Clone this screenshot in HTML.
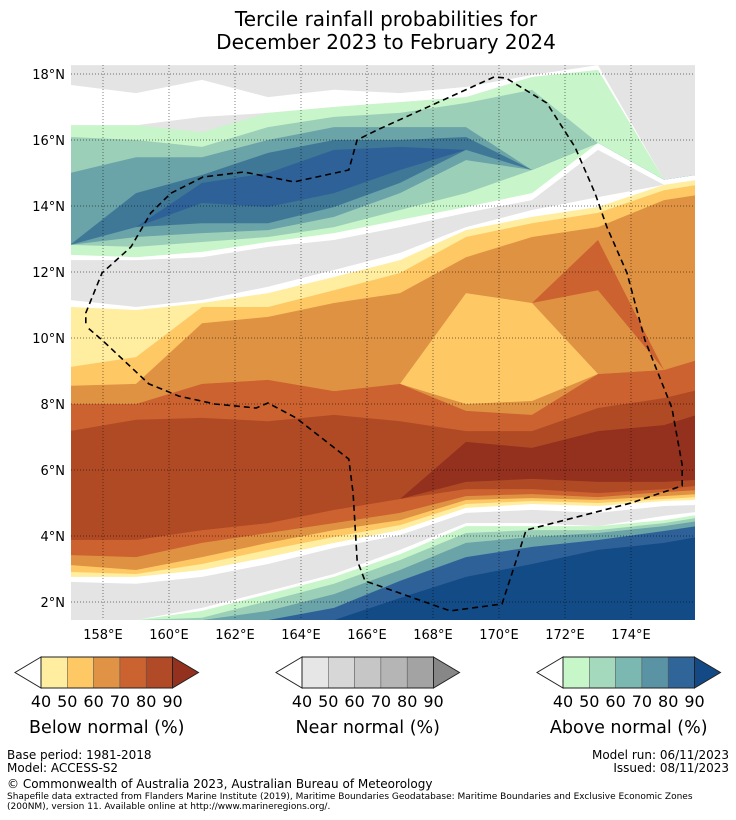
<!DOCTYPE html>
<html><head><meta charset="utf-8"><style>
html,body{margin:0;padding:0;background:#fff;}
body{width:736px;height:816px;overflow:hidden;font-family:"DejaVu Sans","Liberation Sans",sans-serif;}
svg text{font-family:"DejaVu Sans","Liberation Sans",sans-serif;}
</style></head><body>
<svg id="chart" width="736" height="816" viewBox="0 0 736 816" xmlns="http://www.w3.org/2000/svg">
<defs><clipPath id="mapclip"><rect x="71" y="65" width="624" height="555"/></clipPath></defs>
<text x="386" y="26" font-size="20" text-anchor="middle">Tercile rainfall probabilities for</text>
<text x="386" y="49" font-size="20" text-anchor="middle">December 2023 to February 2024</text>
<g id="map" clip-path="url(#mapclip)"></g>
<g id="grid" clip-path="url(#mapclip)"></g>
<g id="eez" clip-path="url(#mapclip)"></g>
<g id="axes"></g>
<g id="legend"></g>
<g font-size="12">
<text x="7" y="759">Base period: 1981-2018</text>
<text x="7" y="772">Model: ACCESS-S2</text>
<text x="729" y="759" text-anchor="end">Model run: 06/11/2023</text>
<text x="729" y="772" text-anchor="end">Issued: 08/11/2023</text>
<text x="7" y="788">© Commonwealth of Australia 2023, Australian Bureau of Meteorology</text>
<text x="7" y="799" font-size="9">Shapefile data extracted from Flanders Marine Institute (2019), Maritime Boundaries Geodatabase: Maritime Boundaries and Exclusive Economic Zones</text>
<text x="7" y="809" font-size="9">(200NM), version 11. Available online at http://www.marineregions.org/.</text>
</g>
</svg>
<script>
// Column longitudes
const lons = [157,159,161,163,165,167,169,171,173,175,176];
// Band fill categories, north to south
const bandColors = ["#e4e4e4","#ffffff","#e4e4e4","#c8f5ca","#9ccfb8","#6aa3a8","#3f7896","#2f6199","#3f7896","#6aa3a8","#9ccfb8","#c8f5ca","#ffffff","#e4e4e4","#ffffff","#ffeda0","#fec965","#e09243","#cc6230","#e09243","#fec965","#e09243","#cc6230","#b04a25","#94301e","#b04a25","#cc6230","#e09243","#fec965","#ffeda0","#ffffff","#e4e4e4","#ffffff","#c8f5ca","#9ccfb8","#6aa3a8","#2f6199","#134b86"];
// Latitude of the top of each band, per longitude column
const c157 = [18.27,17.67,16.45,16.45,16.09,15.0,12.82,12.82,12.82,12.82,12.82,12.82,12.52,12.36,11.15,10.94,9.12,8.55,8.0,8.0,8.0,8.0,8.0,7.18,3.88,3.88,3.88,3.42,3.12,2.91,2.76,2.61,1.45,1.45,1.45,1.45,1.45,1.45];
const c159 = [18.27,17.42,16.45,16.45,16.0,15.48,14.39,13.36,13.36,13.36,13.06,12.76,12.45,12.36,10.94,10.85,9.42,8.61,8.0,8.0,8.0,8.0,8.0,7.52,3.88,3.88,3.88,3.36,2.97,2.85,2.76,2.55,1.45,1.45,1.45,1.45,1.45,1.45];
const c161 = [18.27,17.82,16.70,16.24,15.79,15.48,14.94,14.70,14.09,13.48,13.18,12.91,12.61,12.45,11.15,11.06,10.94,10.45,8.61,8.61,8.61,8.61,8.61,7.58,4.18,4.18,4.18,3.79,3.36,3.15,2.97,2.76,1.82,1.73,1.52,1.45,1.45,1.45];
const c163 = [18.27,17.30,16.82,16.82,16.39,16.0,15.61,15.0,13.97,13.48,13.27,13.06,12.91,12.76,11.55,11.36,10.94,10.64,8.73,8.73,8.73,8.73,8.73,7.48,4.39,4.39,4.39,4.09,3.79,3.58,3.36,3.15,2.33,2.24,2.03,1.73,1.45,1.45];
const c165 = [18.27,17.52,17.0,17.0,16.70,16.39,16.0,15.70,14.39,13.97,13.67,13.36,13.18,12.97,12.06,11.85,11.45,11.06,8.39,8.39,8.39,8.39,8.39,7.67,4.79,4.79,4.79,4.39,4.18,3.97,3.79,3.64,2.85,2.76,2.55,2.24,1.82,1.45];
const c167 = [18.27,17.42,17.15,17.15,16.82,16.39,16.0,15.79,15.09,14.70,14.39,13.88,13.58,13.36,12.58,12.36,11.97,11.36,8.61,8.61,8.61,8.61,8.61,7.48,5.12,5.12,5.12,4.70,4.48,4.33,4.18,4.03,3.58,3.45,3.27,2.97,2.64,2.12];
const c169 = [18.27,17.61,17.30,17.30,17.12,16.39,16.09,15.70,15.70,15.70,15.39,14.39,13.97,13.79,13.36,13.27,13.06,12.45,11.36,11.36,11.36,8.0,7.79,7.18,6.85,5.64,5.42,5.21,5.09,4.97,4.85,4.70,4.39,4.30,4.09,3.79,3.36,2.76];
const c171 = [18.27,17.97,17.91,17.91,17.52,15.09,15.09,15.09,15.09,15.09,15.09,15.09,14.39,14.18,13.88,13.67,13.48,13.06,11.06,11.06,11.06,8.09,7.67,7.18,6.67,5.73,5.42,5.27,5.15,5.06,4.97,4.79,4.39,4.30,4.18,3.97,3.67,3.15];
const c173 = [18.27,18.27,18.12,18.12,15.91,15.91,15.91,15.91,15.91,15.91,15.91,15.91,15.91,15.70,14.27,13.97,13.79,13.36,12.97,11.45,8.91,8.91,8.91,7.88,7.18,5.64,5.30,5.18,5.09,5.0,4.91,4.70,4.30,4.30,4.18,4.09,3.88,3.58];
const c175 = [18.27,14.79,14.79,14.79,14.79,14.79,14.79,14.79,14.79,14.79,14.79,14.79,14.79,14.64,14.64,14.64,14.48,14.18,9.03,9.03,9.03,9.03,9.03,8.18,7.36,5.64,5.42,5.33,5.21,5.12,5.06,4.91,4.61,4.48,4.39,4.30,4.15,3.79];
const c176 = [18.27,14.94,14.94,14.94,14.94,14.94,14.94,14.94,14.94,14.94,14.94,14.94,14.94,14.79,14.79,14.79,14.64,14.33,9.33,9.33,9.33,9.33,9.33,8.42,7.67,5.70,5.52,5.39,5.27,5.18,5.09,4.94,4.73,4.64,4.55,4.45,4.30,3.97];
const columns = [c157,c159,c161,c163,c165,c167,c169,c171,c173,c175,c176];
// EEZ boundary (lon, lat)
const eezLon = [157.48,157.48,157.97,158.85,159.45,160.06,161.03,162.27,163.79,165.45,165.70,166.30,169.85,170.21,171.45,172.30,172.91,173.27,173.88,174.42,175.24,175.55,175.55,174.0,170.82,170.09,168.52,165.94,165.70,165.58,165.45,163.85,163.0,162.64,161.39,160.30,159.39,157.97,157.48];
const eezLat = [10.45,10.76,11.97,12.76,13.79,14.39,14.88,15.03,14.73,15.09,16.0,16.30,17.91,17.88,17.12,15.79,14.39,13.36,11.97,9.94,7.88,6.15,5.52,5.0,4.18,1.94,1.73,2.64,3.27,5.30,6.33,7.58,8.03,7.88,8.0,8.24,8.61,9.94,10.36];
const lonTicks = [158,160,162,164,166,168,170,172,174];
const latTicks = [18,16,14,12,10,8,6,4,2];
const legendLabels = ["40","50","60","70","80","90"];
const belowColors = ["#ffeda0","#fec965","#e09344","#cb6331","#b14a26","#94301e"];
const nearColors = ["#e6e6e6","#d7d7d7","#c6c6c6","#b5b5b5","#a3a3a3","#878787"];
const aboveColors = ["#c7f6c9","#a5d9be","#7bb8b1","#5a93a3","#30659a","#134a86"];
const legendTitles = ["Below normal (%)","Near normal (%)","Above normal (%)"];

const NS="http://www.w3.org/2000/svg";
function xs(lon){return 103+(lon-158)*33;}
function ys(lat){return 74+(18-lat)*33;}
function mk(tag,attrs,parent){const e=document.createElementNS(NS,tag);for(const k in attrs)e.setAttribute(k,attrs[k]);parent.appendChild(e);return e;}

const map=document.getElementById('map');
mk('rect',{x:71,y:65,width:624,height:555,fill:'#ffffff'},map);
for(let i=0;i<bandColors.length;i++){
  let pts=[];
  for(let j=0;j<lons.length;j++) pts.push(xs(lons[j]).toFixed(1)+','+ys(columns[j][i]).toFixed(1));
  pts.push(xs(lons[lons.length-1])+','+ys(0));
  pts.push(xs(lons[0])+','+ys(0));
  const p=mk('polygon',{points:pts.join(' '),fill:bandColors[i]},map);
  
  
}
const grid=document.getElementById('grid');
lonTicks.forEach(l=>{const g=mk('line',{x1:xs(l),x2:xs(l),y1:65,y2:620,stroke:'#000','stroke-width':0.7,'stroke-dasharray':'1,2',opacity:0.7},grid);
  
  });
latTicks.forEach(l=>{const g=mk('line',{x1:71,x2:695,y1:ys(l),y2:ys(l),stroke:'#000','stroke-width':0.7,'stroke-dasharray':'1,2',opacity:0.7},grid);
  
  });
const eez=document.getElementById('eez');
const ep=mk('polyline',{points:eezLon.map((l,i)=>xs(l).toFixed(1)+','+ys(eezLat[i]).toFixed(1)).join(' '),fill:'none',stroke:'#000','stroke-width':1.6,'stroke-dasharray':'6,4'},eez);


const axes=document.getElementById('axes');
lonTicks.forEach(l=>{const t=mk('text',{x:xs(l),y:639,'font-size':13,'text-anchor':'middle'},axes);t.textContent=l+'°E';
  
  });
latTicks.forEach(l=>{const t=mk('text',{x:65,y:ys(l)+5,'font-size':13,'text-anchor':'end'},axes);t.textContent=l+'°N';
  
  });

const legend=document.getElementById('legend');
const sets=[belowColors,nearColors,aboveColors];
const starts=[41,302,563];
sets.forEach((cols,k)=>{
  const x0=starts[k], w=26.3, y0=657, h=31;
  const g=mk('g',{},legend);
  
  
  mk('polygon',{points:`${x0},${y0} ${x0-26},${y0+h/2} ${x0},${y0+h}`,fill:'#fff',stroke:'#222','stroke-width':1},g);
  for(let i=0;i<5;i++){const r=mk('rect',{x:x0+i*w,y:y0,width:w,height:h,fill:cols[i],stroke:'#555','stroke-width':0.5},g);
    
    }
  const xe=x0+5*w;
  mk('polygon',{points:`${xe},${y0} ${xe+26},${y0+h/2} ${xe},${y0+h}`,fill:cols[5],stroke:'#222','stroke-width':1},g);
  mk('rect',{x:x0,y:y0,width:5*w,height:h,fill:'none',stroke:'#222','stroke-width':1},g);
  legendLabels.forEach((lab,i)=>{const t=mk('text',{x:x0+i*w,y:707,'font-size':16,'text-anchor':'middle'},g);t.textContent=lab;
    
    });
  const tt=mk('text',{x:x0+2.5*w,y:733,'font-size':17.5,'text-anchor':'middle'},g);tt.textContent=legendTitles[k];
  
  
});
</script>
</body></html>
